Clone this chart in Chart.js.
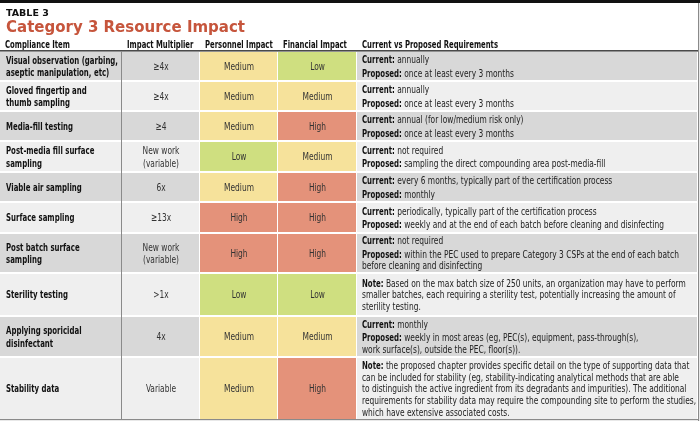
<!DOCTYPE html>
<html>
<head>
<meta charset="utf-8">
<script src="https://cdn.jsdelivr.net/npm/chart.js"></script>
<style>
  body { margin: 0; background: #fff; }
  canvas { display: block; }
</style>
</head>
<body>
<canvas id="chart" width="700" height="421"></canvas>
<script>
// table content
const items = [
    'Visual observation (garbing,\naseptic manipulation, etc)',
    'Gloved fingertip and\nthumb sampling',
    'Media-fill testing',
    'Post-media fill surface\nsampling',
    'Viable air sampling',
    'Surface sampling',
    'Post batch surface\nsampling',
    'Sterility testing',
    'Applying sporicidal\ndisinfectant',
    'Stability data'
];
const multipliers = ['≥4x', '≥4x', '≥4', 'New work\n(variable)', '6x', '≥13x', 'New work\n(variable)', '>1x', '4x', 'Variable'];
const personnel = ['Medium', 'Medium', 'Medium', 'Low', 'Medium', 'High', 'High', 'Low', 'Medium', 'Medium'];
const financial = ['Low', 'Medium', 'High', 'Medium', 'High', 'High', 'High', 'Low', 'Medium', 'High'];
const requirements = [
    [['Current:', 'annually'], ['Proposed:', 'once at least every 3 months']],
    [['Current:', 'annually'], ['Proposed:', 'once at least every 3 months']],
    [['Current:', 'annual (for low/medium risk only)'], ['Proposed:', 'once at least every 3 months']],
    [['Current:', 'not required'], ['Proposed:', 'sampling the direct compounding area post-media-fill']],
    [['Current:', 'every 6 months, typically part of the certification process'], ['Proposed:', 'monthly']],
    [['Current:', 'periodically, typically part of the certification process'], ['Proposed:', 'weekly and at the end of each batch before cleaning and disinfecting']],
    [['Current:', 'not required'], ['Proposed:', 'within the PEC used to prepare Category 3 CSPs at the end of each batch\nbefore cleaning and disinfecting']],
    [['Note:', 'Based on the max batch size of 250 units, an organization may have to perform\nsmaller batches, each requiring a sterility test, potentially increasing the amount of\nsterility testing.']],
    [['Current:', 'monthly'], ['Proposed:', 'weekly in most areas (eg, PEC(s), equipment, pass-through(s),\nwork surface(s), outside the PEC, floor(s)).']],
    [['Note:', 'the proposed chapter provides specific detail on the type of supporting data that\ncan be included for stability (eg, stability-indicating analytical methods that are able\nto distinguish the active ingredient from its degradants and impurities). The additional\nrequirements for stability data may require the compounding site to perform the studies,\nwhich have extensive associated costs.']]
];
const headers = ['Compliance Item', 'Impact Multiplier', 'Personnel Impact', 'Financial Impact', 'Current vs Proposed Requirements'];
const tableLabel = 'TABLE 3';
const tableTitle = 'Category 3 Resource Impact';

// layout (table units = pixels below the heading)
const colEdges = [0, 122, 200, 278, 357, 698];
const rowEdges = [13, 43, 73, 103, 134, 164, 195, 235, 278, 319, 382];
const tableTop = 38;
const tableHeight = 383;

const impactColors = { Low: '#cfdf80', Medium: '#f6e29b', High: '#e4927a' };
const shades = ['#d8d8d8', '#efefef'];
const FAMILY = '"Liberation Sans Narrow", "Arial Narrow", "DejaVu Sans Condensed", "Liberation Sans", sans-serif';
const BODY = '11px ' + FAMILY;
const BOLD = 'bold 11px ' + FAMILY;
const HEAD = 'bold 11px ' + FAMILY;

const rowDatasets = items.map((item, r) => {
    const top = rowEdges[r] + 1;
    const bottom = rowEdges[r + 1] - 1;
    const shade = shades[r % 2];
    return {
        label: item,
        stack: 'table',
        barThickness: bottom - top,
        inflateAmount: 0,
        borderWidth: 0,
        backgroundColor: [shade, shade, impactColors[personnel[r]], impactColors[financial[r]], shade],
        data: [0, 1, 2, 3, 4].map(c => ({ y: (top + bottom) / 2, x: [colEdges[c], colEdges[c + 1] - 1] }))
    };
});

// narrow the fonts so the lines run as long as in the print
function fitSqueeze(ctx, font, str, target) {
    ctx.font = font;
    return target / ctx.measureText(str).width;
}

function drawText(ctx, text, x, y, squeeze, align) {
    ctx.save();
    ctx.translate(x, y);
    ctx.scale(squeeze, 1);
    ctx.textAlign = align || 'left';
    ctx.fillText(text, 0, 0);
    ctx.restore();
}

const tableText = {
    id: 'tableText',
    afterDatasetsDraw(chart) {
        const ctx = chart.ctx;
        const xs = chart.scales.x;
        const ys = chart.scales.y;
        const px = v => xs.getPixelForValue(v);
        const py = v => ys.getPixelForValue(v);

        ctx.save();
        const sBody = fitSqueeze(ctx, BODY, 'every 6 months, typically part of the certification process', 215);
        const sBold = fitSqueeze(ctx, BOLD, 'Visual observation (garbing,', 112);
        const sHead = fitSqueeze(ctx, HEAD, 'Current vs Proposed Requirements', 136);

        // rules
        ctx.fillStyle = '#111';
        ctx.fillRect(0, 0, chart.width, 3);
        ctx.fillStyle = '#4a4a4a';
        ctx.fillRect(0, py(rowEdges[0]) - 1, px(colEdges[5]) + 1, 1.6);
        ctx.fillStyle = '#8a8a8a';
        ctx.fillRect(px(colEdges[1]) - 1, py(rowEdges[0]), 1, py(rowEdges[10]) - py(rowEdges[0]));
        ctx.fillRect(px(colEdges[5]), 3, 1.2, py(rowEdges[10]) - 2);
        ctx.fillRect(0, py(rowEdges[10]) - 1, px(colEdges[5]) + 1, 1.2);

        // heading
        ctx.textBaseline = 'alphabetic';
        ctx.fillStyle = '#111';
        ctx.font = 'bold 9.5px "DejaVu Sans", sans-serif';
        ctx.fillText(tableLabel, 6, 16);
        ctx.fillStyle = '#c6553c';
        ctx.font = 'bold 15px "DejaVu Sans", sans-serif';
        ctx.fillText(tableTitle, 6, 32);

        // column headers
        ctx.fillStyle = '#111';
        ctx.textBaseline = 'middle';
        ctx.font = HEAD;
        headers.forEach((h, c) => drawText(ctx, h, px(colEdges[c]) + 5, py(rowEdges[0] / 2) + 1, sHead));

        items.forEach((item, r) => {
            const mid = py((rowEdges[r] + rowEdges[r + 1]) / 2) + 1;
            // compliance item
            ctx.fillStyle = '#111';
            ctx.font = BOLD;
            let lines = item.split('\n');
            lines.forEach((l, i) => drawText(ctx, l, px(colEdges[0]) + 6, mid + (i - (lines.length - 1) / 2) * 12.5, sBold));
            // multiplier
            ctx.fillStyle = '#333';
            ctx.font = BODY;
            lines = multipliers[r].split('\n');
            lines.forEach((l, i) => drawText(ctx, l, px((colEdges[1] + colEdges[2]) / 2), mid + (i - (lines.length - 1) / 2) * 12.5, sBody, 'center'));
            // impacts
            drawText(ctx, personnel[r], px((colEdges[2] + colEdges[3]) / 2), mid, sBody, 'center');
            drawText(ctx, financial[r], px((colEdges[3] + colEdges[4]) / 2), mid, sBody, 'center');
            // requirements
            const rows = [];
            requirements[r].forEach((p, pi) => {
                p[1].split('\n').forEach((l, li) => rows.push({ label: li === 0 ? p[0] : '', text: l, gap: li === 0 && pi > 0 ? 1.6 : 0 }));
            });
            const lh = 11.7;
            const span = rows.reduce((s, row, i) => s + (i ? lh + row.gap : 0), 0);
            let y = mid - span / 2;
            rows.forEach((row, i) => {
                if (i) y += lh + row.gap;
                let x = px(colEdges[4]) + 5;
                ctx.fillStyle = '#111';
                if (row.label) {
                    ctx.font = BOLD;
                    drawText(ctx, row.label, x, y, sBold);
                    x += ctx.measureText(row.label).width * sBold;
                    ctx.font = BODY;
                    x += ctx.measureText(' ').width * sBody;
                }
                ctx.fillStyle = '#222';
                ctx.font = BODY;
                drawText(ctx, row.text, x, y, sBody);
            });
        });
        ctx.restore();
    }
};

const table = new Chart(document.getElementById('chart').getContext('2d'), {
    type: 'bar',
    data: { datasets: rowDatasets },
    options: {
        indexAxis: 'y',
        responsive: false,
        animation: false,
        layout: { padding: { top: tableTop, left: 0, right: 0, bottom: 0 } },
        scales: {
            x: { type: 'linear', min: 0, max: 700, display: false, stacked: false, offset: false },
            y: { type: 'linear', min: 0, max: tableHeight, reverse: true, display: false, offset: false, grid: { offset: false } }
        },
        plugins: {
            legend: { display: false },
            tooltip: { enabled: false }
        }
    },
    plugins: [tableText]
});
</script>
</body>
</html>
